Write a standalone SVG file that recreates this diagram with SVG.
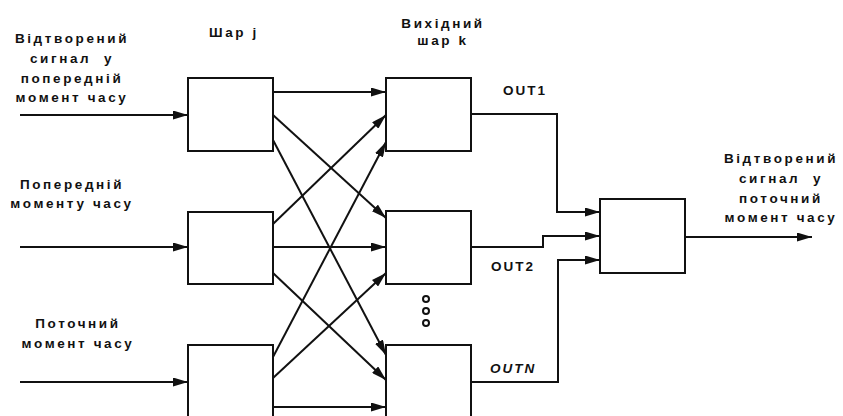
<svg xmlns="http://www.w3.org/2000/svg" width="843" height="416" viewBox="0 0 843 416">
<style>
.box{fill:#fff;stroke:#111;stroke-width:2}
.c{fill:none;stroke:#111;stroke-width:2}
.t{font-family:"Liberation Sans",Arial,sans-serif;font-weight:bold;font-size:13.5px;letter-spacing:2.6px;fill:#111;text-anchor:middle;white-space:pre}
.o{font-family:"Liberation Sans",Arial,sans-serif;font-weight:bold;font-size:13.5px;letter-spacing:2px;fill:#111}
</style>
<defs>
<marker id="ah" viewBox="0 0 15 9" refX="15" refY="4.5" markerWidth="15" markerHeight="9" markerUnits="userSpaceOnUse" orient="auto">
<path d="M0,0 L15,4.5 L0,9 Z" fill="#111"/>
</marker>
</defs>
<g id="labels">
<text class="t" x="72" y="43">Відтворений</text>
<text class="t" x="72" y="63" xml:space="preserve">сигнал  у</text>
<text class="t" x="72" y="83">попередній</text>
<text class="t" x="72" y="102">момент часу</text>
<text class="t" x="72" y="189">Попередній</text>
<text class="t" x="72" y="208">моменту часу</text>
<text class="t" x="78" y="328">Поточний</text>
<text class="t" x="78" y="348">момент часу</text>
<text class="t" x="234" y="37">Шар j</text>
<text class="t" x="443" y="28">Вихідний</text>
<text class="t" x="443" y="45">шар k</text>
<text class="o" x="503" y="95">OUT1</text>
<text class="o" x="491" y="271">OUT2</text>
<text class="o" x="490" y="373" font-style="italic">OUTN</text>
<text class="t" x="781" y="163">Відтворений</text>
<text class="t" x="781" y="183" xml:space="preserve">сигнал  у</text>
<text class="t" x="781" y="203">поточний</text>
<text class="t" x="781" y="222">момент часу</text>
</g>
<g id="j1"><rect class="box" x="188" y="78" width="85" height="73"/></g>
<g id="j2"><rect class="box" x="188" y="212" width="85" height="72"/></g>
<g id="j3"><rect class="box" x="188" y="345" width="85" height="80"/></g>
<g id="k1"><rect class="box" x="386" y="78" width="85" height="73"/></g>
<g id="k2"><rect class="box" x="386" y="211" width="85" height="73"/></g>
<g id="kN"><rect class="box" x="386" y="345" width="85" height="80"/></g>
<g id="sum"><rect class="box" x="600" y="199" width="85" height="74"/></g>
<g id="dots" fill="none" stroke="#111" stroke-width="2">
<circle cx="426" cy="299" r="3"/>
<circle cx="426" cy="311" r="3"/>
<circle cx="426" cy="323" r="3"/>
</g>
<g id="connectors" class="c" marker-end="url(#ah)">
<line x1="20" y1="115" x2="188" y2="115"/>
<line x1="20" y1="247" x2="188" y2="247"/>
<line x1="20" y1="382" x2="188" y2="382"/>
<line x1="273" y1="92" x2="386" y2="92"/>
<line x1="273" y1="115" x2="386" y2="218"/>
<line x1="273" y1="140" x2="386" y2="355"/>
<line x1="273" y1="224" x2="386" y2="115"/>
<line x1="273" y1="247" x2="386" y2="247"/>
<line x1="273" y1="273" x2="386" y2="380"/>
<line x1="273" y1="357" x2="386" y2="142"/>
<line x1="273" y1="378" x2="386" y2="273"/>
<line x1="273" y1="407" x2="386" y2="407"/>
<polyline points="471,114 557,114 557,212 600,212"/>
<polyline points="471,247 543,247 543,236 600,236"/>
<polyline points="471,382 558,382 558,260 600,260"/>
<line x1="685" y1="237" x2="812" y2="237"/>
</g>
</svg>
